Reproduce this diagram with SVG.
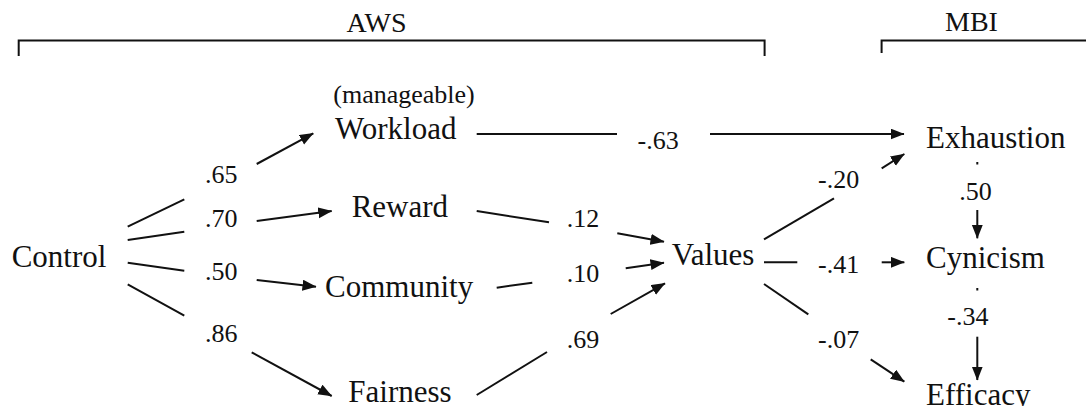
<svg xmlns="http://www.w3.org/2000/svg" width="1086" height="406" viewBox="0 0 1086 406">
  <style>
    text { font-family: "Liberation Serif", Tinos, "Times New Roman", Times, "Nimbus Roman", "Noto Serif", "DejaVu Serif", FreeSerif, Georgia, serif; fill: #111; }
    .node { font-size: 31px; }
    .sub { font-size: 26px; }
    .coef { font-size: 26px; }
    .head { font-size: 28px; }
    .wire { stroke: #111; stroke-width: 2; fill: none; }
    .arrow { stroke: #111; stroke-width: 2; fill: none; marker-end: url(#tip); }
  </style>
  <defs>
    <marker id="tip" markerUnits="userSpaceOnUse" markerWidth="15" markerHeight="12" refX="13.5" refY="5.5" orient="auto">
      <path d="M0,0 L14,5.5 L0,11 Z" fill="#111"/>
    </marker>
  </defs>
  <rect width="1086" height="406" fill="#fff"/>

  <!-- scale brackets -->
  <g id="aws-bracket">
    <path class="wire" d="M18.7,56 V40.5 H764.6 V56"/>
    <text class="head" x="376.5" y="32" text-anchor="middle">AWS</text>
  </g>
  <g id="mbi-bracket">
    <path class="wire" d="M881.6,53 V40.5 H1086"/>
    <text class="head" x="971.5" y="31" text-anchor="middle">MBI</text>
  </g>

  <!-- nodes -->
  <g id="control"><text class="node" x="11.7" y="266.7">Control</text></g>
  <g id="workload">
    <text class="sub" x="333.3" y="102.7">(manageable)</text>
    <text class="node" x="335" y="139.3">Workload</text>
  </g>
  <g id="reward"><text class="node" x="351.7" y="216.7">Reward</text></g>
  <g id="community"><text class="node" x="325" y="296.7">Community</text></g>
  <g id="fairness"><text class="node" x="348.3" y="402">Fairness</text></g>
  <g id="values"><text class="node" x="671.7" y="265">Values</text></g>
  <g id="exhaustion"><text class="node" x="926" y="148.3">Exhaustion</text></g>
  <g id="cynicism"><text class="node" x="926" y="268.3">Cynicism</text></g>
  <g id="efficacy"><text class="node" x="926" y="405">Efficacy</text></g>

  <!-- path connectors, each broken around its coefficient -->
  <g id="connectors">
    <line class="wire" x1="127.7" y1="226.7" x2="184.3" y2="199.3"/>
    <line class="arrow" x1="256.7" y1="164" x2="313.3" y2="133.3"/>

    <line class="wire" x1="127.7" y1="240" x2="184.3" y2="231.7"/>
    <line class="arrow" x1="256.7" y1="221" x2="331.7" y2="211"/>

    <line class="wire" x1="127.7" y1="262.7" x2="184.3" y2="270.7"/>
    <line class="arrow" x1="256.7" y1="280" x2="316" y2="286.7"/>

    <line class="wire" x1="127.7" y1="284.3" x2="184.3" y2="315.7"/>
    <line class="arrow" x1="251.7" y1="352.3" x2="331.7" y2="396"/>

    <line class="wire" x1="476.7" y1="134" x2="617" y2="134"/>
    <line class="arrow" x1="710" y1="134" x2="904" y2="134"/>

    <line class="wire" x1="476.7" y1="211" x2="549" y2="222.3"/>
    <line class="arrow" x1="617.3" y1="233.3" x2="664" y2="241.7"/>

    <line class="wire" x1="496.7" y1="287.7" x2="532.3" y2="282.7"/>
    <line class="arrow" x1="625.7" y1="268.3" x2="664" y2="262.7"/>

    <line class="wire" x1="476.7" y1="395" x2="547" y2="352"/>
    <line class="arrow" x1="610.7" y1="314" x2="665" y2="283.3"/>

    <line class="wire" x1="764" y1="239.3" x2="834" y2="198.3"/>
    <line class="arrow" x1="881.7" y1="168.3" x2="904.3" y2="154"/>

    <line class="wire" x1="764" y1="262.3" x2="797.3" y2="262.3"/>
    <line class="arrow" x1="881.7" y1="262.3" x2="904.3" y2="262.3"/>

    <line class="wire" x1="764" y1="284" x2="808.3" y2="314.3"/>
    <line class="arrow" x1="870.7" y1="359.3" x2="904.3" y2="381.7"/>

    <line class="wire" x1="977.3" y1="162" x2="977.3" y2="164.5"/>
    <line class="arrow" x1="977.3" y1="210" x2="977.3" y2="238.3"/>

    <line class="wire" x1="977.3" y1="288" x2="977.3" y2="290.5"/>
    <line class="arrow" x1="977.3" y1="336.7" x2="977.3" y2="380"/>
  </g>

  <!-- path coefficients -->
  <g id="coefficients">
    <text class="coef" x="205" y="182.7">.65</text>
    <text class="coef" x="205" y="226.7">.70</text>
    <text class="coef" x="205" y="280">.50</text>
    <text class="coef" x="205" y="341.7">.86</text>
    <text class="coef" x="637.5" y="149">-.63</text>
    <text class="coef" x="566.7" y="226.7">.12</text>
    <text class="coef" x="566.7" y="281.7">.10</text>
    <text class="coef" x="566.7" y="348.3">.69</text>
    <text class="coef" x="818" y="188.3">-.20</text>
    <text class="coef" x="818" y="273.3">-.41</text>
    <text class="coef" x="818" y="348.3">-.07</text>
    <text class="coef" x="959.3" y="200">.50</text>
    <text class="coef" x="947.3" y="325">-.34</text>
  </g>
</svg>
